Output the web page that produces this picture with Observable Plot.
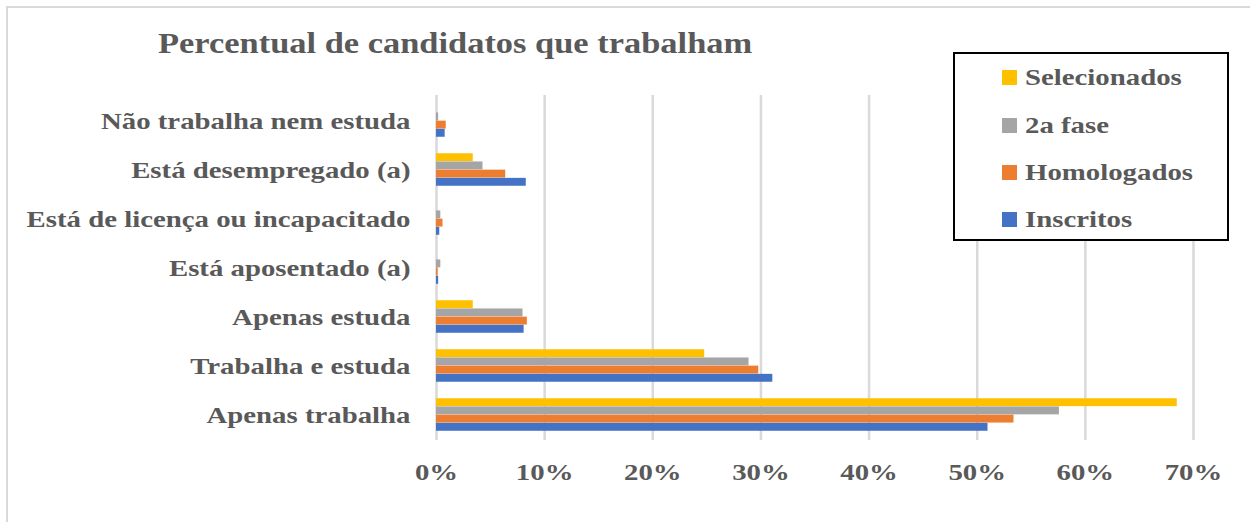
<!DOCTYPE html>
<html>
<head>
<meta charset="utf-8">
<script src="https://cdn.jsdelivr.net/npm/d3@7"></script>
<script src="https://cdn.jsdelivr.net/npm/@observablehq/plot@0.6"></script>
<style>
  html, body { margin: 0; padding: 0; background: #fff; }
  #wrap { position: relative; width: 1250px; height: 522px; overflow: hidden; background: #fff;
          font-family: "Liberation Serif", "Times New Roman", serif; font-weight: bold; color: #595959; }
  #frame { position: absolute; left: 6px; top: 6px; width: 1300px; height: 600px;
           border-left: 2px solid #d9d9d9; border-top: 2px solid #d9d9d9; }
  #title { position: absolute; left: 158px; top: 25px; font-size: 28.7px; line-height: 36px; white-space: nowrap;
           transform: scaleX(1.2); transform-origin: left center; }
  #legend { position: absolute; left: 953px; top: 52px; width: 272px; height: 185px;
            border: 2px solid #000; background: #fff; }
  .item { position: absolute; left: 47px; font-size: 24px; line-height: 28px; white-space: nowrap; }
  .sw { display: inline-block; width: 15px; height: 15px; margin-right: 8px; vertical-align: 0px; }
  .lbl { display: inline-block; transform: scaleX(1.2); transform-origin: left center; }
  #chart { position: absolute; left: 0; top: 0; }
</style>
</head>
<body>
<div id="wrap">
  <div id="frame"></div>
  <div id="chart"></div>
  <div id="title">Percentual de candidatos que trabalham</div>
  <div id="legend"></div>
</div>
<script>
const categories = [
  "Não trabalha nem estuda",
  "Está desempregado (a)",
  "Está de licença ou incapacitado",
  "Está aposentado (a)",
  "Apenas estuda",
  "Trabalha e estuda",
  "Apenas trabalha"
];
const seriesNames = ["Selecionados", "2a fase", "Homologados", "Inscritos"];
const seriesColors = ["#FFC000", "#A5A5A5", "#ED7D31", "#4472C4"];
const selecionados = [0, 3.4, 0, 0, 3.4, 24.8, 68.5];
const segundaFase  = [0.2, 4.3, 0.4, 0.4, 8.0, 28.9, 57.6];
const homologados  = [0.9, 6.4, 0.6, 0.15, 8.4, 29.8, 53.4];
const inscritos    = [0.8, 8.3, 0.3, 0.2, 8.1, 31.1, 51.0];
const xTicks = [0, 10, 20, 30, 40, 50, 60, 70];

const seriesValues = [selecionados, segundaFase, homologados, inscritos];

const W = 1250, H = 522;
const mTop = 95, mBottom = 82, mLeft = 436, mRight = 57;
const step = (H - mTop - mBottom) / categories.length;
const barH = 8.2;
const groupH = barH * seriesNames.length;
const stretch = 1.2;

const marks = [
  Plot.ruleX(xTicks, {stroke: "#d9d9d9", strokeWidth: 2.5})
];
seriesNames.forEach((name, i) => {
  const data = categories.map((c, j) => ({category: c, value: seriesValues[i][j]}));
  const insetTop = (step - groupH) / 2 + barH * i;
  const insetBottom = step - insetTop - barH;
  marks.push(Plot.barX(data, {
    x: "value", y: "category", fill: seriesColors[i],
    insetTop, insetBottom
  }));
});
marks.push(Plot.axisX(xTicks, {
  tickSize: 0, tickPadding: 22, fontSize: 24, tickFormat: d => d + "%", label: null
}));
marks.push(Plot.axisY({
  tickSize: 0, tickPadding: 26, fontSize: 24, label: null
}));

const chart = Plot.plot({
  width: W, height: H,
  marginTop: mTop, marginBottom: mBottom, marginLeft: mLeft, marginRight: mRight,
  style: {fontFamily: "Liberation Serif, Times New Roman, serif", fontWeight: "bold", color: "#595959", background: "transparent", overflow: "visible"},
  x: {domain: [0, 70], axis: null},
  y: {domain: categories, padding: 0, axis: null},
  marks
});
document.getElementById("chart").appendChild(chart);

// Stretch axis text horizontally about its anchor (the reference is wider than tall)
chart.querySelectorAll("text").forEach(t => {
  const tr = t.getAttribute("transform");
  if (tr) {
    t.setAttribute("transform", tr + ` scale(${stretch},1)`);
  } else {
    const x = +(t.getAttribute("x") || 0), y = +(t.getAttribute("y") || 0);
    t.removeAttribute("x"); t.removeAttribute("y");
    t.setAttribute("transform", `translate(${x},${y}) scale(${stretch},1)`);
  }
});

const legend = document.getElementById("legend");
const rowTops = [9, 57, 104, 151];
seriesNames.forEach((name, i) => {
  const d = document.createElement("div");
  d.className = "item";
  d.style.top = rowTops[i] + "px";
  d.innerHTML = `<span class="sw" style="background:${seriesColors[i]}"></span><span class="lbl">${name}</span>`;
  legend.appendChild(d);
});
</script>
</body>
</html>
